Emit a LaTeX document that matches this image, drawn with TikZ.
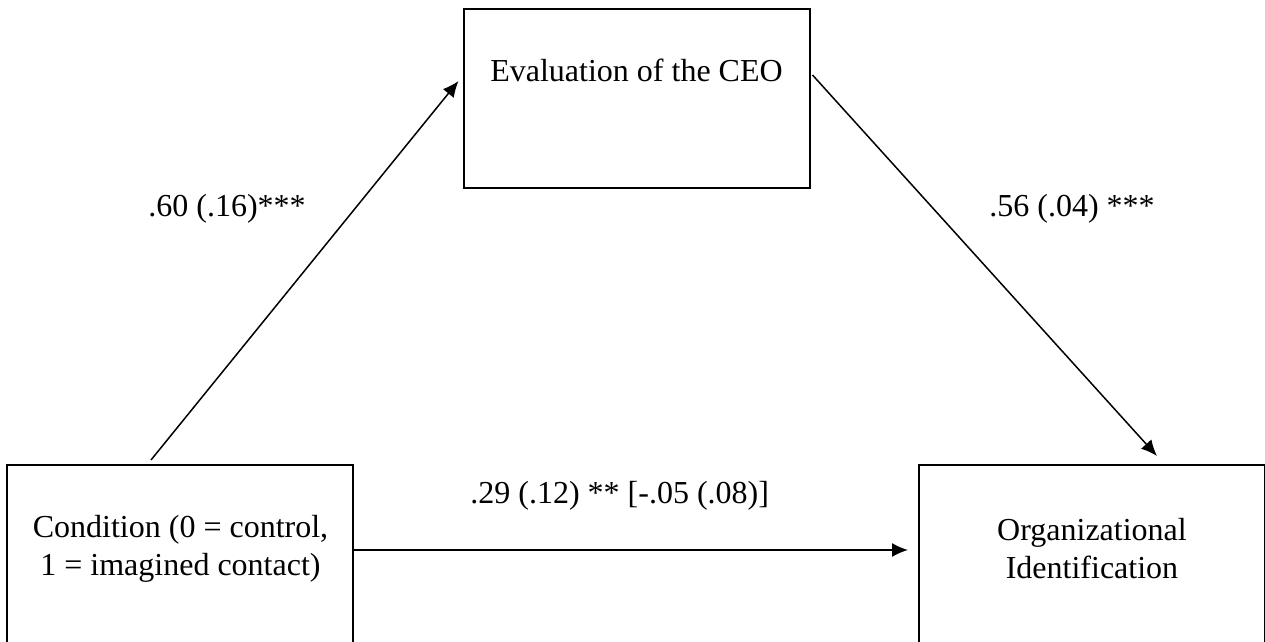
\documentclass[tikz,border=0pt]{standalone}
\usepackage{fontspec}
\setmainfont{Liberation Serif}
\usetikzlibrary{arrows.meta}

\begin{document}
\begin{tikzpicture}[
    x=0.5pt, y=-0.5pt,
    font=\fontsize{16}{19}\selectfont,
    varbox/.style={draw,line width=1pt,minimum width=173pt,minimum height=89.5pt,inner sep=0pt},
    txt/.style={inner sep=0pt,align=center},
    path/.style={line width=0.75pt,-{Latex[length=8pt,width=7pt]}}
]
\useasboundingbox (0,0) rectangle (1265,642);

\node[varbox] (ceo)  at (636.5,98.5) {};
\node[varbox] (cond) at (180,554.5)  {};
\node[varbox] (org)  at (1092,554.5) {};

\node[txt,anchor=base] (ceotxt) at (636.5,82)  {Evaluation of the CEO};
\node[txt]             (condtxt) at (180.5,548.5) {Condition (0 = control,\\1 = imagined contact)};
\node[txt]             (orgtxt)  at (1092,548.5)  {Organizational\\Identification};

\node[txt,anchor=base west] (a) at (148,217) {.60 (.16)***};
\node[txt,anchor=base west] (b) at (989,217) {.56 (.04) ***};
\node[txt,anchor=base west] (c) at (470,503) {.29 (.12) ** [-.05 (.08)]};

\draw[path] ([xshift=72.5pt,yshift=2pt]cond.north west) -- ([xshift=-2pt,yshift=-36.5pt]ceo.north west);
\draw[path] ([xshift=1pt,yshift=-33.5pt]ceo.north east) -- ([xshift=119.5pt,yshift=4pt]org.north west);
\draw[path] ([yshift=2.25pt]cond.east) -- ([xshift=-5pt,yshift=2.25pt]org.west);
\end{tikzpicture}
\end{document}
